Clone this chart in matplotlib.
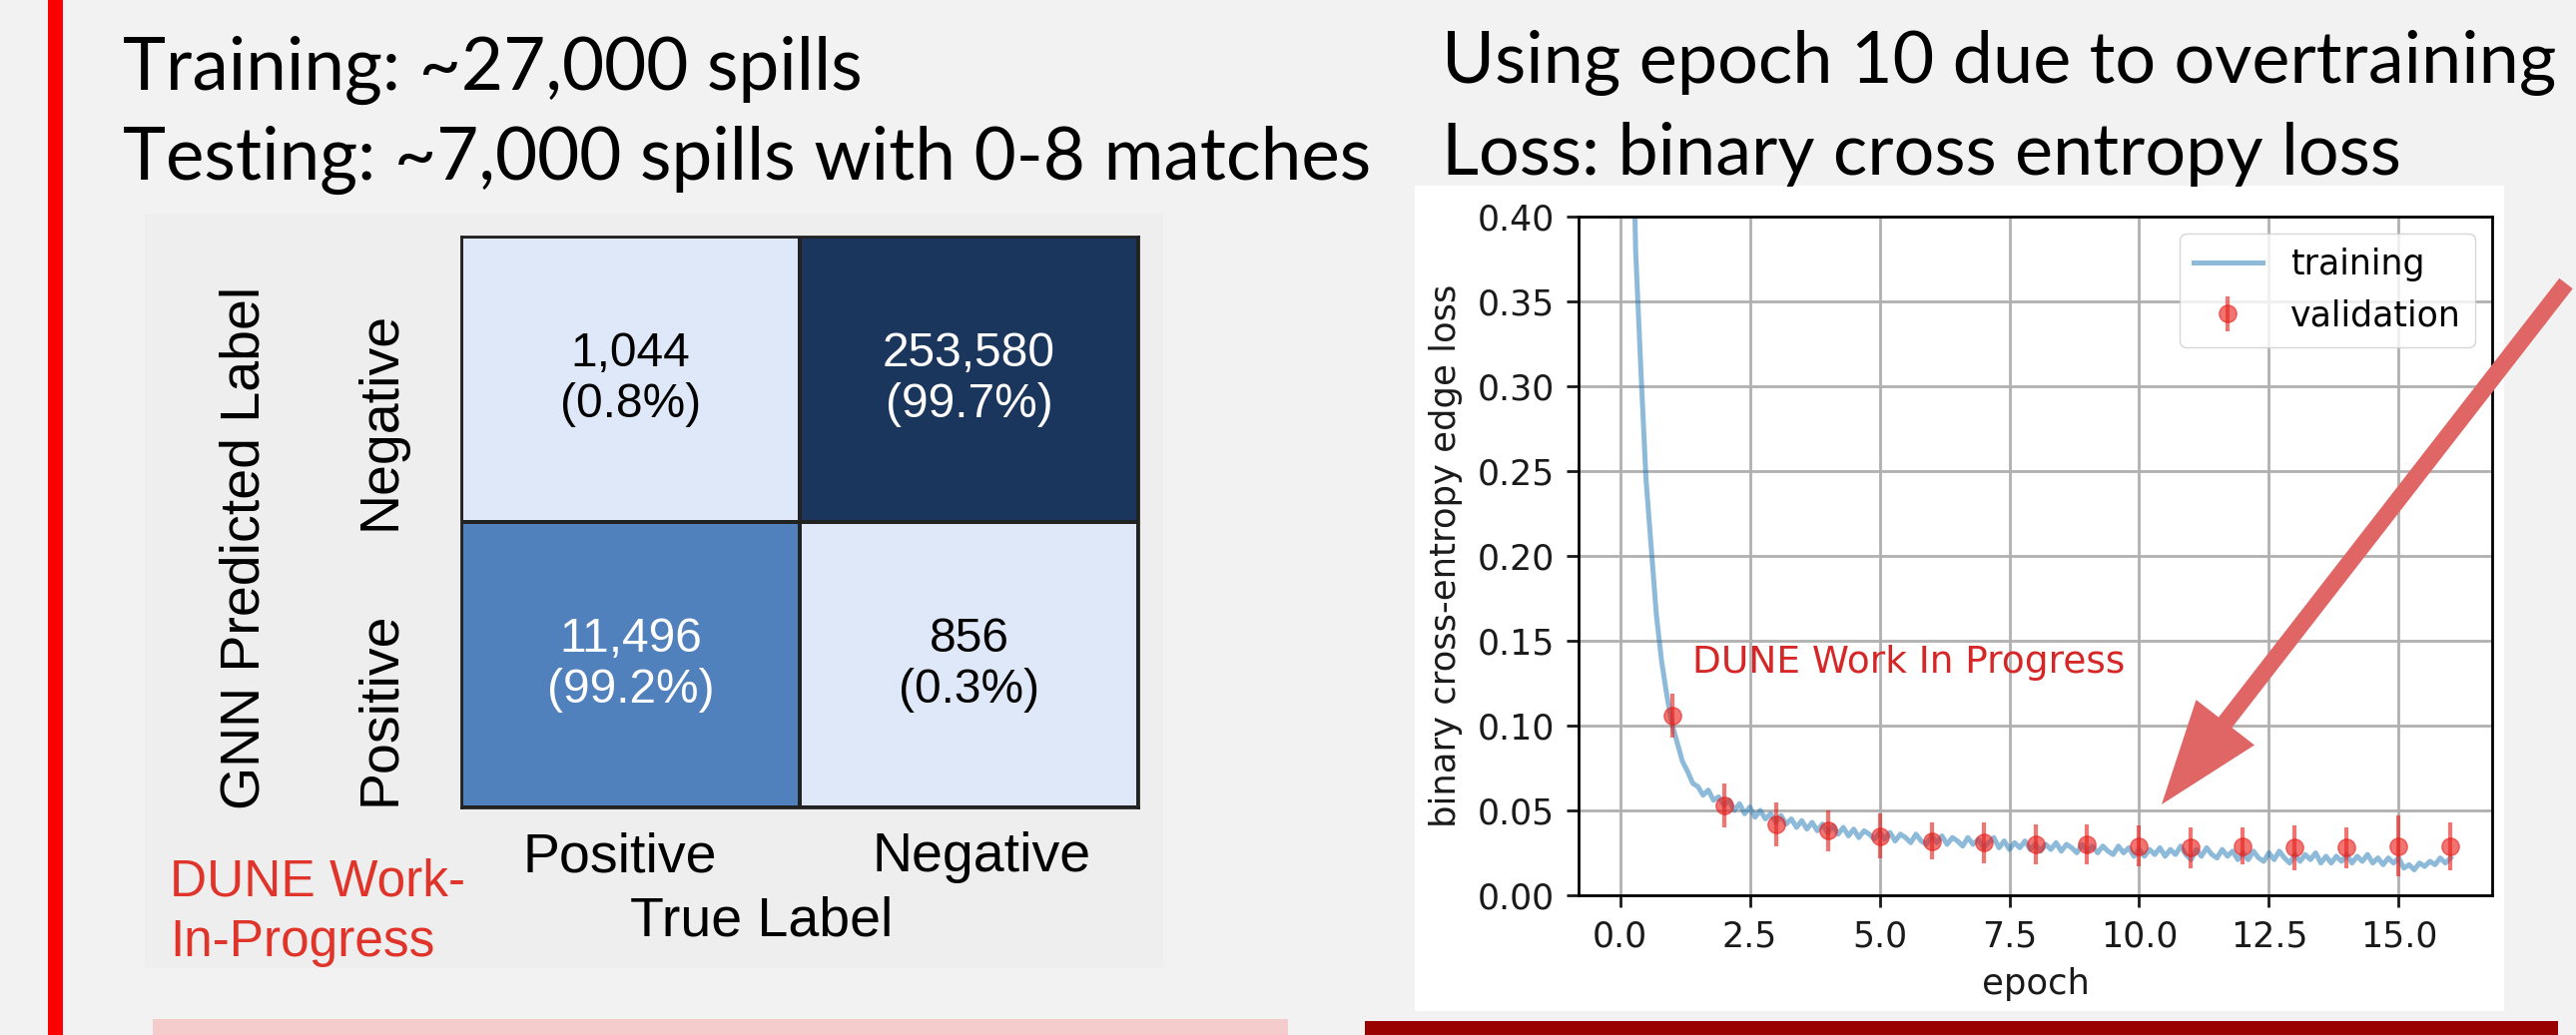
import numpy as np
import matplotlib
matplotlib.use("Agg")
import matplotlib.pyplot as plt
from matplotlib.patches import Rectangle, FancyArrow
from matplotlib.colors import LinearSegmentedColormap, LogNorm

W, H = 2580, 1037

# ---------------- data ----------------
title_left = ["Training: ~27,000 spills", "Testing: ~7,000 spills with 0-8 matches"]
title_right = ["Using epoch 10 due to overtraining", "Loss: binary cross entropy loss"]

true_labels = ["Positive", "Negative"]          # columns
pred_labels = ["Negative", "Positive"]          # rows, top to bottom
counts = [[1044, 253580],
          [11496, 856]]
percents = [[0.8, 99.7],
            [99.2, 0.3]]

val_epochs = [1, 2, 3, 4, 5, 6, 7, 8, 9, 10, 11, 12, 13, 14, 15, 16]
val_loss = [0.106, 0.053, 0.042, 0.038, 0.035, 0.032, 0.031, 0.030,
            0.030, 0.029, 0.028, 0.029, 0.028, 0.028, 0.029, 0.029]
val_err = [0.013, 0.013, 0.013, 0.012, 0.013, 0.011, 0.012, 0.012,
           0.012, 0.012, 0.012, 0.011, 0.013, 0.012, 0.018, 0.014]

train_epochs = np.round(np.arange(1, 161) * 0.1, 1)
train_loss = [
    0.780, 0.520, 0.380, 0.310, 0.245, 0.205, 0.165, 0.138, 0.118, 0.101,
    0.090, 0.079, 0.073, 0.066, 0.064, 0.059, 0.062, 0.056, 0.058, 0.053,
    0.056, 0.050, 0.054, 0.048, 0.052, 0.046, 0.050, 0.045, 0.048, 0.043,
    0.047, 0.042, 0.045, 0.040, 0.044, 0.039, 0.043, 0.038, 0.042, 0.037,
    0.041, 0.036, 0.040, 0.035, 0.039, 0.034, 0.038, 0.036, 0.033, 0.037,
    0.033, 0.037, 0.032, 0.036, 0.034, 0.031, 0.036, 0.032, 0.030, 0.035,
    0.031, 0.035, 0.030, 0.034, 0.032, 0.029, 0.034, 0.030, 0.033, 0.028,
    0.031, 0.034, 0.028, 0.032, 0.027, 0.031, 0.028, 0.032, 0.027, 0.030,
    0.026, 0.030, 0.027, 0.031, 0.026, 0.030, 0.028, 0.025, 0.030, 0.026,
    0.029, 0.025, 0.029, 0.026, 0.024, 0.029, 0.025, 0.028, 0.023, 0.027,
    0.023, 0.027, 0.024, 0.028, 0.023, 0.027, 0.024, 0.029, 0.024, 0.021,
    0.027, 0.023, 0.028, 0.024, 0.022, 0.027, 0.023, 0.026, 0.021, 0.025,
    0.021, 0.026, 0.022, 0.020, 0.025, 0.021, 0.026, 0.022, 0.019, 0.024,
    0.020, 0.024, 0.021, 0.025, 0.019, 0.023, 0.019, 0.023, 0.020, 0.024,
    0.019, 0.023, 0.020, 0.024, 0.019, 0.022, 0.018, 0.022, 0.019, 0.022,
    0.016, 0.018, 0.015, 0.019, 0.017, 0.020, 0.018, 0.022, 0.019, 0.022,
]

x_ticks = [0.0, 2.5, 5.0, 7.5, 10.0, 12.5, 15.0]
y_ticks = [0.00, 0.05, 0.10, 0.15, 0.20, 0.25, 0.30, 0.35, 0.40]


def fr(x0, y0, x1, y1):
    """pixel box (top-left origin) -> figure fraction rect"""
    return [x0 / W, 1 - y1 / H, (x1 - x0) / W, (y1 - y0) / H]


fig = plt.figure(figsize=(W / 100, H / 100), dpi=100, facecolor="#f2f2f2")

# ---------- background overlay (pixel coordinates) ----------
bg = fig.add_axes([0, 0, 1, 1], zorder=0)
bg.set_xlim(0, W)
bg.set_ylim(H, 0)
bg.axis("off")
bg.add_patch(Rectangle((48, 0), 15, H, color="#ff0000", lw=0))
bg.add_patch(Rectangle((145, 214), 1020, 756, color="#eeeeee", lw=0))
bg.add_patch(Rectangle((1417, 186), 1091, 827, color="white", lw=0))
bg.add_patch(Rectangle((153, 1021), 1137, 20, color="#f4cccc", lw=0))
bg.add_patch(Rectangle((1367, 1023), 1195, 20, color="#990000", lw=0))

for i, t in enumerate(title_left):
    bg.text(123, 90 + 90 * i, t, fontsize=52.5, family="Lato", ha="left",
            va="baseline", color="black")
for i, t in enumerate(title_right):
    bg.text(1444, 83 + 92 * i, t, fontsize=51.8, family="Lato", ha="left",
            va="baseline", color="black")

cm_font = "Liberation Sans"
# axis tick labels of the confusion matrix
bg.text(621, 873, true_labels[0], fontsize=40, family=cm_font, ha="center", va="baseline")
bg.text(983, 873, true_labels[1], fontsize=40, family=cm_font, ha="center", va="baseline")
bg.text(763, 937, "True Label", fontsize=40, family=cm_font, ha="center", va="baseline")
bg.text(381, 421, pred_labels[0], fontsize=40, family=cm_font, ha="center", va="center", rotation=90)
bg.text(381, 710, pred_labels[1], fontsize=40, family=cm_font, ha="center", va="center", rotation=90)
bg.text(246, 549, "GNN Predicted Label", fontsize=40, family=cm_font, ha="center", va="center", rotation=90)
bg.text(170, 897, "DUNE Work-", fontsize=37, family=cm_font, ha="left", va="baseline", color="#e0342a")
bg.text(170, 958, "In-Progress", fontsize=37, family=cm_font, ha="left", va="baseline", color="#e0342a")

# ---------- confusion matrix ----------
ax_cm = fig.add_axes(fr(462, 237, 1140, 809), zorder=1)
cmap = LinearSegmentedColormap.from_list(
    "cmblues", [(0.0, "#dfe8f8"), (0.437, "#4f81bd"), (1.0, "#1b365d")])
norm = LogNorm(vmin=1044, vmax=253580, clip=True)
ax_cm.pcolormesh(np.array(counts, dtype=float), cmap=cmap, norm=norm,
                 edgecolors="#222222", linewidth=1.5)
ax_cm.set_xlim(0, 2)
ax_cm.set_ylim(2, 0)
ax_cm.set_xticks([])
ax_cm.set_yticks([])
for s in ax_cm.spines.values():
    s.set_linewidth(2)
    s.set_color("#222222")
for i in range(2):
    for j in range(2):
        dark = norm(counts[i][j]) > 0.3
        ax_cm.text(j + 0.5, i + 0.5, f"{counts[i][j]:,}\n({percents[i][j]}%)",
                   ha="center", va="center", fontsize=34.5, family=cm_font,
                   color="white" if dark else "black", linespacing=1.15)

# ---------- loss curve ----------
ax = fig.add_axes(fr(1581, 217, 2496, 897), zorder=1)
ax.set_facecolor("white")
ax.plot(train_epochs, train_loss, color="tab:blue", alpha=0.5, lw=3.6, label="training")
ax.errorbar(val_epochs, val_loss, yerr=val_err, fmt="o", color="#e8211c", alpha=0.62,
            ms=12.5, elinewidth=3, label="validation")
ax.set_xlim(-0.8, 16.8)
ax.set_ylim(0, 0.4)
ax.set_xticks(x_ticks)
ax.set_xticklabels([f"{v:.1f}" for v in x_ticks])
ax.set_yticks(y_ticks)
ax.set_yticklabels([f"{v:.2f}" for v in y_ticks])
ax.grid(True, color="#b0b0b0", lw=2)
ax.set_axisbelow(True)
ax.tick_params(labelsize=25, length=8.75, width=2, pad=8.75, colors="#1a1a1a")
for s in ax.spines.values():
    s.set_linewidth(2)
ax.set_xlabel("epoch", fontsize=25.5, labelpad=10, color="#1a1a1a")
ax.set_ylabel("binary cross-entropy edge loss", fontsize=25.5, labelpad=10, color="#1a1a1a")
ax.legend(loc="upper right", fontsize=25, borderaxespad=0.5)
ax.text(1.4, 0.137, "DUNE Work In Progress", color="#d62728", fontsize=27,
        ha="left", va="center")

# ---------- foreground arrow ----------
fg = fig.add_axes([0, 0, 1, 1], zorder=10)
fg.set_xlim(0, W)
fg.set_ylim(H, 0)
fg.axis("off")
fg.patch.set_alpha(0)
fg.add_patch(FancyArrow(2570, 284, 2165 - 2570, 806 - 284, width=17, head_width=74,
                        head_length=104, length_includes_head=True,
                        color="#e06666", lw=0))

fig.savefig("out.png", dpi=100, facecolor=fig.get_facecolor())
